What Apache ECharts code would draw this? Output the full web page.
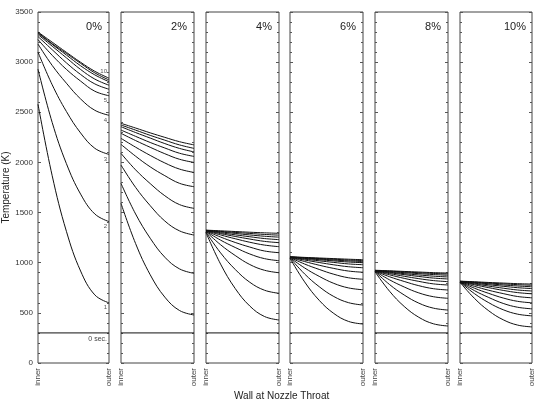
<!DOCTYPE html>
<html>
<head>
<meta charset="utf-8">
<script src="https://cdn.jsdelivr.net/npm/echarts@6/dist/echarts.min.js"></script>
<style>
  html, body { margin: 0; padding: 0; background: #fff; }
  #chart { width: 536px; height: 400px; }
</style>
</head>
<body>
<div id="chart"></div>
<script>
// wall position, inner -> outer
const xPos = [0, 0.2, 0.4, 0.6, 0.8, 1]
const xLabels = ['inner', 'outer']
const panelNames = ['0%', '2%', '4%', '6%', '8%', '10%']
const yTicks = [0, 500, 1000, 1500, 2000, 2500, 3000, 3500]
const initialTemp = [300, 300, 300, 300, 300, 300, 300]

// temperature profiles (K), one row per time step
const temps0 = [
  [2580, 1867, 1313, 917, 679, 600],
  [2930, 2398, 1988, 1684, 1486, 1410],
  [3100, 2774, 2508, 2294, 2141, 2080],
  [3180, 2967, 2790, 2633, 2520, 2470],
  [3225, 3068, 2928, 2811, 2710, 2665],
  [3255, 3124, 2993, 2877, 2783, 2730],
  [3275, 3159, 3043, 2927, 2831, 2770],
  [3288, 3177, 3071, 2964, 2873, 2805],
  [3295, 3184, 3087, 2988, 2893, 2822],
  [3300, 3199, 3098, 2999, 2909, 2840]
]
const temps2 = [
  [1592, 1191, 880, 657, 524, 479],
  [1791, 1486, 1244, 1055, 939, 894],
  [1974, 1751, 1569, 1416, 1318, 1276],
  [2090, 1926, 1789, 1668, 1580, 1542],
  [2180, 2062, 1956, 1868, 1792, 1758],
  [2240, 2152, 2070, 1995, 1934, 1900],
  [2290, 2218, 2151, 2087, 2032, 2000],
  [2323, 2260, 2199, 2144, 2092, 2060],
  [2356, 2298, 2243, 2188, 2140, 2105],
  [2373, 2322, 2270, 2222, 2175, 2140],
  [2390, 2343, 2295, 2250, 2207, 2175]
]
const temps4 = [
  [1300, 986, 743, 568, 464, 429],
  [1305, 1098, 933, 805, 726, 695],
  [1310, 1179, 1072, 982, 925, 900],
  [1313, 1225, 1152, 1087, 1041, 1020],
  [1316, 1256, 1202, 1156, 1117, 1100],
  [1318, 1277, 1239, 1204, 1176, 1160],
  [1320, 1290, 1262, 1236, 1213, 1200],
  [1321, 1299, 1278, 1259, 1241, 1230],
  [1322, 1307, 1292, 1277, 1264, 1255],
  [1323, 1312, 1302, 1292, 1282, 1275],
  [1325, 1318, 1311, 1304, 1298, 1293]
]
const temps6 = [
  [1045, 809, 625, 494, 415, 389],
  [1048, 888, 761, 663, 602, 578],
  [1050, 948, 864, 794, 749, 730],
  [1052, 987, 933, 885, 850, 835],
  [1053, 1012, 975, 943, 917, 905],
  [1054, 1027, 1002, 979, 960, 950],
  [1055, 1036, 1019, 1003, 988, 980],
  [1056, 1043, 1030, 1018, 1007, 1000],
  [1057, 1047, 1037, 1027, 1018, 1012],
  [1058, 1050, 1042, 1035, 1027, 1022],
  [1060, 1053, 1047, 1041, 1035, 1030]
]
const temps8 = [
  [910, 715, 564, 456, 391, 369],
  [913, 782, 678, 597, 547, 528],
  [915, 829, 758, 699, 661, 645],
  [917, 860, 813, 771, 741, 728],
  [918, 879, 844, 814, 789, 778],
  [919, 891, 865, 841, 822, 811],
  [920, 900, 881, 863, 847, 838],
  [921, 906, 891, 878, 866, 858],
  [922, 911, 901, 891, 882, 875],
  [923, 916, 908, 900, 893, 888],
  [925, 919, 913, 907, 901, 897]
]
const temps10 = [
  [805, 645, 520, 431, 378, 360],
  [807, 692, 601, 531, 487, 470],
  [808, 722, 653, 594, 556, 540],
  [809, 746, 694, 648, 615, 600],
  [810, 765, 725, 692, 663, 650],
  [811, 780, 751, 724, 702, 690],
  [812, 789, 767, 746, 728, 718],
  [813, 796, 780, 765, 751, 742],
  [814, 802, 790, 778, 768, 760],
  [815, 806, 797, 789, 781, 775],
  [816, 810, 803, 797, 791, 787]
]
// time labels written next to the 0% curves
const timeLabels0 = ['1', '2', '3', '4', '5', '', '', '', '', '10']

const panels = [temps0, temps2, temps4, temps6, temps8, temps10]
const panelLeft = [36, 121, 206, 290, 375, 460]
const panelWidth = 73

var myChart = echarts.init(document.getElementById('chart'))

const font = 'Liberation Sans, Arial, sans-serif'
let grids = [], xAxes = [], yAxes = [], titles = [], series = []

panels.forEach((rows, p) => {
  grids.push({
    left: panelLeft[p], top: 12, width: panelWidth, height: 351,
    show: true, borderColor: '#444', borderWidth: 1, backgroundColor: 'transparent'
  })
  xAxes.push({
    gridIndex: p, type: 'value', min: 0, max: 1, interval: 1,
    axisLine: { show: false }, axisTick: { show: false }, splitLine: { show: false },
    axisLabel: {
      rotate: 90, fontSize: 8, color: '#444', fontFamily: font, margin: 5,
      formatter: v => (v === 0 ? xLabels[0] : v === 1 ? xLabels[1] : '')
    }
  })
  // left and right axes, both with inner ticks
  ;['left', 'right'].forEach(side => {
    yAxes.push({
      gridIndex: p, type: 'value', position: side, min: yTicks[0], max: yTicks[yTicks.length - 1], interval: 500,
      axisLine: { show: false },
      axisTick: { show: true, inside: true, length: 3, lineStyle: { color: '#555' } },
      minorTick: { show: true, splitNumber: 5, length: 2, lineStyle: { color: '#555' } },
      splitLine: { show: false },
      axisLabel: {
        show: p === 0 && side === 'left', fontSize: 8, color: '#333', fontFamily: font, margin: 5,
        formatter: v => String(v)
      },
      name: p === 0 && side === 'left' ? 'Temperature (K)' : '',
      nameLocation: 'middle', nameGap: 27,
      nameTextStyle: { fontSize: 10, color: '#222', fontFamily: font }
    })
  })
  titles.push({
    text: panelNames[p],
    right: 536 - (panelLeft[p] + panelWidth) + 2, top: 16,
    textStyle: { fontSize: 11, fontWeight: 'normal', color: '#222', fontFamily: font }
  })

  // 0 sec line
  series.push({
    type: 'line', xAxisIndex: p, yAxisIndex: p * 2,
    data: [[0, initialTemp[p]], [1, initialTemp[p]]],
    showSymbol: false, silent: true,
    lineStyle: { color: '#111', width: 1 },
    endLabel: {
      show: p === 0, formatter: '0 sec.', fontSize: 7, color: '#444', fontFamily: font,
      distance: 0, align: 'right', verticalAlign: 'top', offset: [-2, 3]
    }
  })
  rows.forEach((vals, c) => {
    let lab = p === 0 ? timeLabels0[c] : ''
    series.push({
      type: 'line', xAxisIndex: p, yAxisIndex: p * 2,
      data: xPos.map((x, k) => [x, vals[k]]),
      showSymbol: false, silent: true, smooth: 0.4,
      lineStyle: { color: '#111', width: 1 },
      endLabel: {
        show: lab !== '', formatter: lab, fontSize: 6, color: '#555', fontFamily: font,
        distance: 0, align: 'right',
        verticalAlign: lab === '10' ? 'bottom' : 'top',
        offset: lab === '10' ? [-2, -4] : [-2, 2]
      }
    })
  })
})

let option = {
  animation: false,
  backgroundColor: '#fff',
  title: titles,
  grid: grids,
  xAxis: xAxes,
  yAxis: yAxes,
  series: series,
  graphic: [{
    type: 'text', left: 234, top: 391,
    style: { text: 'Wall at Nozzle Throat', fontSize: 10, fill: '#222', fontFamily: font }
  }]
}

myChart.setOption(option)
</script>
</body>
</html>
